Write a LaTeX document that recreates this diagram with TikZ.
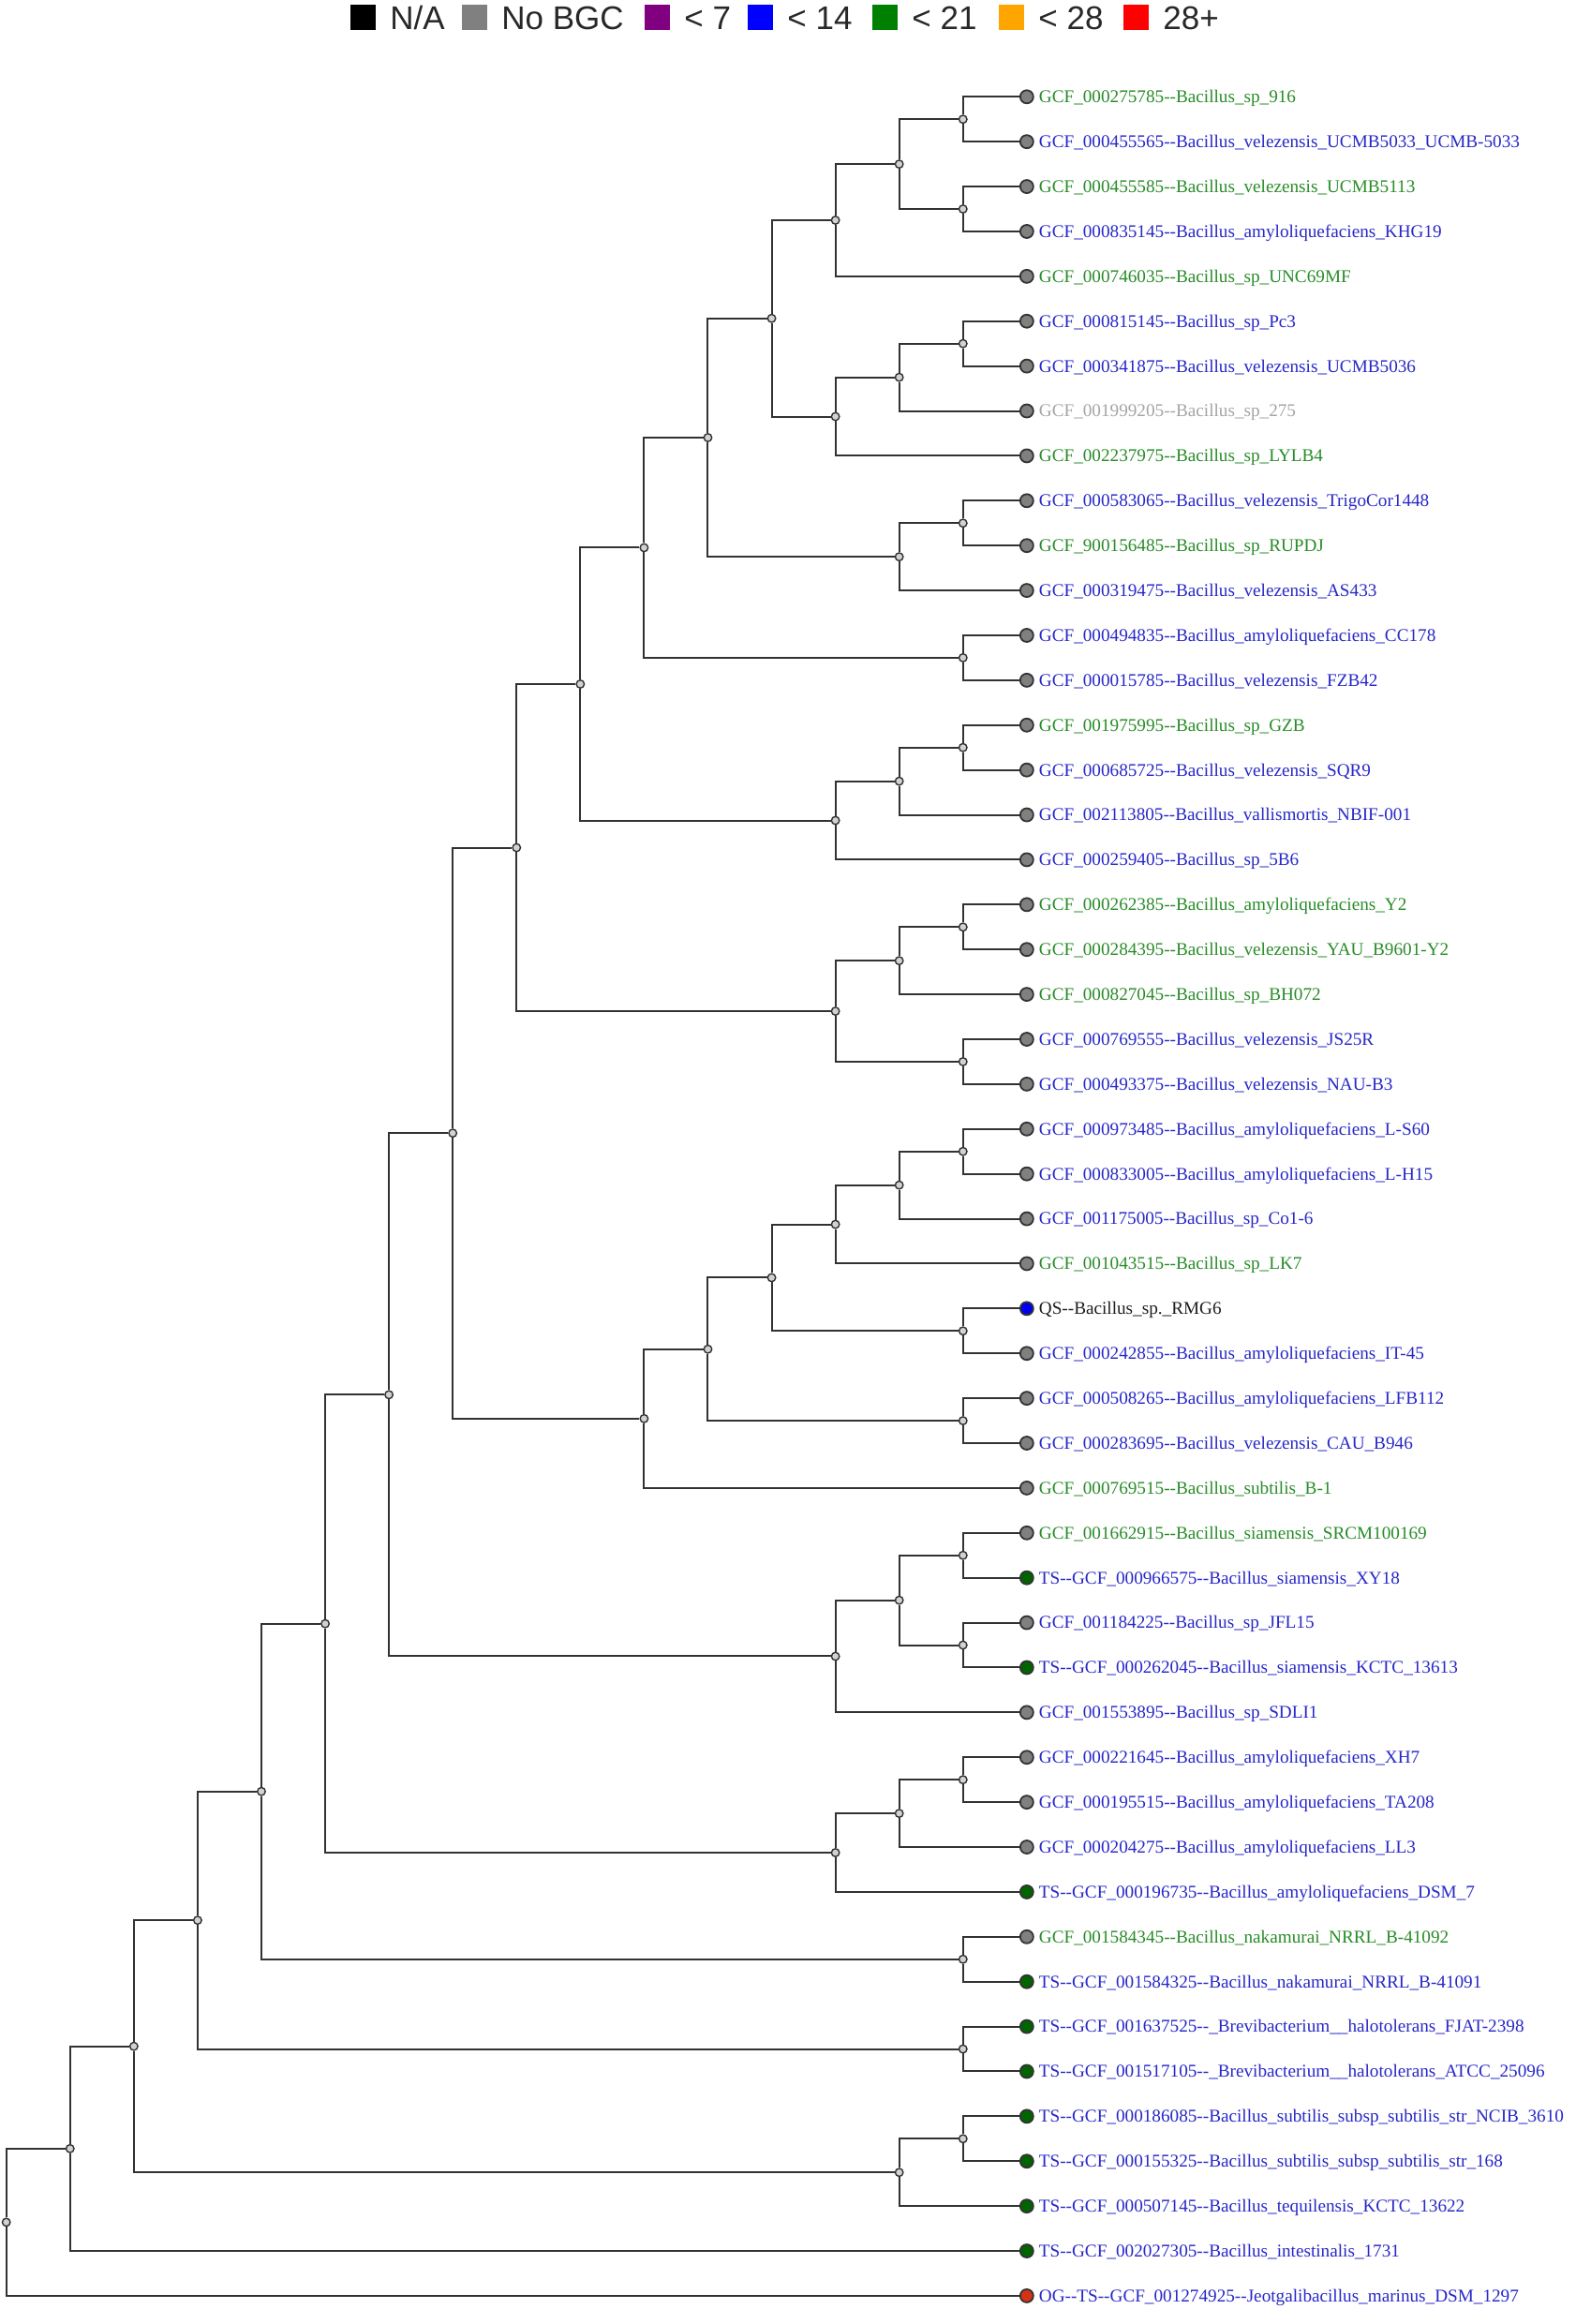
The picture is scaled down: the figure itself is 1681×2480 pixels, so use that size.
\documentclass[tikz,border=0pt]{standalone}
\usepackage{fontspec}
\setmainfont{Liberation Serif}
\newfontfamily\legfont{Liberation Sans}
\definecolor{tg}{RGB}{40,140,40}
\definecolor{tb}{RGB}{40,40,200}
\definecolor{ty}{RGB}{165,165,165}
\definecolor{tk}{RGB}{30,30,30}
\definecolor{dgray}{RGB}{128,128,128}
\definecolor{dgreen}{RGB}{0,100,0}
\definecolor{dblue}{RGB}{0,0,240}
\definecolor{dred}{RGB}{215,50,20}
\definecolor{linecol}{RGB}{50,50,50}
\definecolor{legpurple}{RGB}{128,0,128}
\definecolor{legblue}{RGB}{0,0,255}
\definecolor{leggreen}{RGB}{0,128,0}
\definecolor{legorange}{RGB}{255,165,0}
\definecolor{legred}{RGB}{255,0,0}
\definecolor{leggray}{RGB}{128,128,128}
\definecolor{legtext}{RGB}{40,40,40}
\newcommand\dsh{\mbox{-}\mbox{-}}
\newcommand\LX[1]{(6.7+68.07*(#1))}
\newcommand\LY[1]{(55.41+47.89*(#1))}
\tikzset{
  branch/.style={draw=linecol, line width=2pt},
  inode/.style={circle, draw=linecol, fill=white!65!gray, line width=1.4pt, minimum size=8.5pt, inner sep=0pt},
  leafdot/.style={circle, draw=black!80, line width=1.8pt, minimum size=14pt, inner sep=0pt},
  lab/.style={anchor=base west, inner sep=0pt, font=\fontsize{19.2}{23}\selectfont},
  legsq/.style={minimum size=27pt, inner sep=0pt, draw=none},
  legtxt/.style={anchor=base west, inner sep=0pt, text=legtext, font=\legfont\fontsize{35}{40}\selectfont},
}
\begin{document}
\begin{tikzpicture}[x=1pt,y=-1pt]
\fill[white] (0,0) rectangle (1681,2480);
\useasboundingbox (0,0) rectangle (1681,2480);
% legend
\foreach \s/\c/\x/\t in {1/black/387.5/{N/A}, 2/leggray/506.5/{No BGC}, 3/legpurple/701.5/{< 7}, 4/legblue/811.5/{< 14}, 5/leggreen/944.5/{< 21}, 6/legorange/1079.5/{< 28}, 7/legred/1212.5/{28+}}{
  \node[legsq, fill=\c] (sq\s) at (\x,18.5) {};
  \node[legtxt] (lg\s) at ([xshift=15pt,yshift=-13.5pt]sq\s.east) {\t};
}
% leaves
\foreach \i/\tc/\dc/\txt in {
1/tg/dgray/{GCF\_000275785\dsh Bacillus\_sp\_916},
2/tb/dgray/{GCF\_000455565\dsh Bacillus\_velezensis\_UCMB5033\_UCMB-5033},
3/tg/dgray/{GCF\_000455585\dsh Bacillus\_velezensis\_UCMB5113},
4/tb/dgray/{GCF\_000835145\dsh Bacillus\_amyloliquefaciens\_KHG19},
5/tg/dgray/{GCF\_000746035\dsh Bacillus\_sp\_UNC69MF},
6/tb/dgray/{GCF\_000815145\dsh Bacillus\_sp\_Pc3},
7/tb/dgray/{GCF\_000341875\dsh Bacillus\_velezensis\_UCMB5036},
8/ty/dgray/{GCF\_001999205\dsh Bacillus\_sp\_275},
9/tg/dgray/{GCF\_002237975\dsh Bacillus\_sp\_LYLB4},
10/tb/dgray/{GCF\_000583065\dsh Bacillus\_velezensis\_TrigoCor1448},
11/tg/dgray/{GCF\_900156485\dsh Bacillus\_sp\_RUPDJ},
12/tb/dgray/{GCF\_000319475\dsh Bacillus\_velezensis\_AS433},
13/tb/dgray/{GCF\_000494835\dsh Bacillus\_amyloliquefaciens\_CC178},
14/tb/dgray/{GCF\_000015785\dsh Bacillus\_velezensis\_FZB42},
15/tg/dgray/{GCF\_001975995\dsh Bacillus\_sp\_GZB},
16/tb/dgray/{GCF\_000685725\dsh Bacillus\_velezensis\_SQR9},
17/tb/dgray/{GCF\_002113805\dsh Bacillus\_vallismortis\_NBIF-001},
18/tb/dgray/{GCF\_000259405\dsh Bacillus\_sp\_5B6},
19/tg/dgray/{GCF\_000262385\dsh Bacillus\_amyloliquefaciens\_Y2},
20/tg/dgray/{GCF\_000284395\dsh Bacillus\_velezensis\_YAU\_B9601-Y2},
21/tg/dgray/{GCF\_000827045\dsh Bacillus\_sp\_BH072},
22/tb/dgray/{GCF\_000769555\dsh Bacillus\_velezensis\_JS25R},
23/tb/dgray/{GCF\_000493375\dsh Bacillus\_velezensis\_NAU-B3},
24/tb/dgray/{GCF\_000973485\dsh Bacillus\_amyloliquefaciens\_L-S60},
25/tb/dgray/{GCF\_000833005\dsh Bacillus\_amyloliquefaciens\_L-H15},
26/tb/dgray/{GCF\_001175005\dsh Bacillus\_sp\_Co1-6},
27/tg/dgray/{GCF\_001043515\dsh Bacillus\_sp\_LK7},
28/tk/dblue/{QS\dsh Bacillus\_sp.\_RMG6},
29/tb/dgray/{GCF\_000242855\dsh Bacillus\_amyloliquefaciens\_IT-45},
30/tb/dgray/{GCF\_000508265\dsh Bacillus\_amyloliquefaciens\_LFB112},
31/tb/dgray/{GCF\_000283695\dsh Bacillus\_velezensis\_CAU\_B946},
32/tg/dgray/{GCF\_000769515\dsh Bacillus\_subtilis\_B-1},
33/tg/dgray/{GCF\_001662915\dsh Bacillus\_siamensis\_SRCM100169},
34/tb/dgreen/{TS\dsh GCF\_000966575\dsh Bacillus\_siamensis\_XY18},
35/tb/dgray/{GCF\_001184225\dsh Bacillus\_sp\_JFL15},
36/tb/dgreen/{TS\dsh GCF\_000262045\dsh Bacillus\_siamensis\_KCTC\_13613},
37/tb/dgray/{GCF\_001553895\dsh Bacillus\_sp\_SDLI1},
38/tb/dgray/{GCF\_000221645\dsh Bacillus\_amyloliquefaciens\_XH7},
39/tb/dgray/{GCF\_000195515\dsh Bacillus\_amyloliquefaciens\_TA208},
40/tb/dgray/{GCF\_000204275\dsh Bacillus\_amyloliquefaciens\_LL3},
41/tb/dgreen/{TS\dsh GCF\_000196735\dsh Bacillus\_amyloliquefaciens\_DSM\_7},
42/tg/dgray/{GCF\_001584345\dsh Bacillus\_nakamurai\_NRRL\_B-41092},
43/tb/dgreen/{TS\dsh GCF\_001584325\dsh Bacillus\_nakamurai\_NRRL\_B-41091},
44/tb/dgreen/{TS\dsh GCF\_001637525\dsh\_Brevibacterium\_\_halotolerans\_FJAT-2398},
45/tb/dgreen/{TS\dsh GCF\_001517105\dsh\_Brevibacterium\_\_halotolerans\_ATCC\_25096},
46/tb/dgreen/{TS\dsh GCF\_000186085\dsh Bacillus\_subtilis\_subsp\_subtilis\_str\_NCIB\_3610},
47/tb/dgreen/{TS\dsh GCF\_000155325\dsh Bacillus\_subtilis\_subsp\_subtilis\_str\_168},
48/tb/dgreen/{TS\dsh GCF\_000507145\dsh Bacillus\_tequilensis\_KCTC\_13622},
49/tb/dgreen/{TS\dsh GCF\_002027305\dsh Bacillus\_intestinalis\_1731},
50/tb/dred/{OG\dsh TS\dsh GCF\_001274925\dsh Jeotgalibacillus\_marinus\_DSM\_1297}}{
  \node[leafdot, fill=\dc] (N\i) at ({\LX{16}},{\LY{\i}}) {};
  \node[lab, text=\tc] (T\i) at ([xshift=5pt,yshift=-6.4pt]N\i.east) {\txt};
}
% internal nodes and branches
\foreach \n/\l/\k/\a/\b in {
A1/15/1.5/N1/N2, A2/15/3.5/N3/N4, A3/14/2.5/A1/A2, A4/13/3.75/A3/N5,
B1/15/6.5/N6/N7, B2/14/7.25/B1/N8, B3/13/8.125/B2/N9, C1/12/5.9375/A4/B3,
D1/15/10.5/N10/N11, D2/14/11.25/D1/N12, C2/11/8.59375/C1/D2,
E1/15/13.5/N13/N14, C3/10/11.046875/C2/E1,
F1/15/15.5/N15/N16, F2/14/16.25/F1/N17, F3/13/17.125/F2/N18, C4/9/14.0859375/C3/F3,
G1/15/19.5/N19/N20, G2/14/20.25/G1/N21, G3/15/22.5/N22/N23, G4/13/21.375/G2/G3,
C5/8/17.73046875/C4/G4,
H1/15/24.5/N24/N25, H2/14/25.25/H1/N26, H3/13/26.125/H2/N27, H4/15/28.5/N28/N29,
H5/12/27.3125/H3/H4, H6/15/30.5/N30/N31, H7/11/28.90625/H5/H6, H8/10/30.453125/H7/N32,
C6/7/24.0917969/C5/H8,
I1/15/33.5/N33/N34, I3/15/35.5/N35/N36, I2/14/34.5/I1/I3, I4/13/35.75/I2/N37,
C7/6/29.9208984/C6/I4,
J1/15/38.5/N38/N39, J2/14/39.25/J1/N40, J3/13/40.125/J2/N41, C8/5/35.0229492/C7/J3,
K1/15/42.5/N42/N43, C9/4/38.7614746/C8/K1,
P1/15/44.5/N44/N45, C10/3/41.6307373/C9/P1,
M1/15/46.5/N46/N47, M2/14/47.25/M1/N48, C11/2/44.4403687/C10/M2,
C12/1/46.7201843/C11/N49, R/0/48.3600922/C12/N50}{
  \node[inode] (\n) at ({\LX{\l}},{\LY{\k}}) {};
  \draw[branch] (\a) -| (\n);
  \draw[branch] (\b) -| (\n);
}
\end{tikzpicture}
\end{document}
